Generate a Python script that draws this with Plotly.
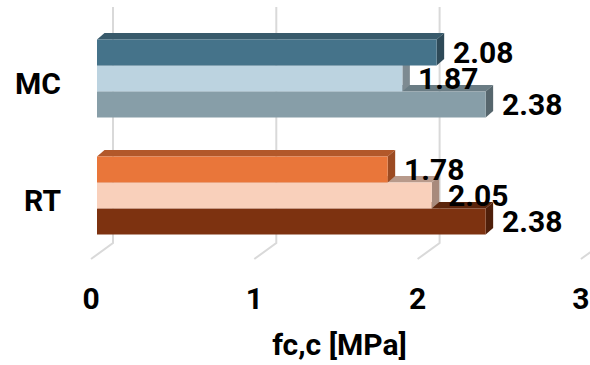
import plotly.graph_objects as go

# ---- data ----
categories = ["MC", "RT"]              # top to bottom
series_top = [2.08, 1.78]              # upper bar in each group
series_mid = [1.87, 2.05]              # middle bar
series_bot = [2.38, 2.38]              # lower bar
x_ticks = [0, 1, 2, 3]
x_title = "fc,c [MPa]"

# ---- styles ----
front_cols = {
    "top": ["#45738a", "#e9763a"],
    "mid": ["#bcd3e0", "#f9d0bb"],
    "bot": ["#879ea8", "#7d3210"],
}
topface_cols = {
    "top": ["#385a6b", "#b2582a"],
    "mid": ["#8c9aa2", "#b89a8b"],
    "bot": ["#6a7c84", "#5c250c"],
}
side_cols = {
    "top": ["#2e4a58", "#9c4b22"],
    "mid": ["#7d8a91", "#a88a7c"],
    "bot": ["#56666d", "#4f1f0a"],
}

PX_X = 163.3   # pixels per x unit
PX_Y = 117.0   # pixels per category
DX = 7.5 / PX_X
DY = 6.5 / PX_Y
BW = 0.222
offsets = {"top": 0.111, "mid": -0.111, "bot": -0.333}
values = {"top": series_top, "mid": series_mid, "bot": series_bot}

ypos = [len(categories) - 1 - i for i in range(len(categories))]

FONT = dict(family="Roboto", size=30, color="#000000", weight=700)

fig = go.Figure()
shapes = []

# back wall gridlines + floor diagonals
for t in x_ticks:
    xb = t + 16 / PX_X
    xf = t - 6 / PX_X
    y_top = 1 + (78.5 - 7) / PX_Y
    y_bot = (195.5 - 243) / PX_Y
    y_fl = (195.5 - 259) / PX_Y
    shapes.append(dict(type="path", xref="x", yref="y", layer="below",
                       path=f"M{xb},{y_top} L{xb},{y_bot} L{xf},{y_fl}",
                       line=dict(color="#d9d9d9", width=2)))

# 3D faces (drawn bottom bar first, upper bars overwrite)
for key in ["bot", "mid", "top"]:
    for i, v in enumerate(values[key]):
        y0 = ypos[i] + offsets[key]
        y1 = y0 + BW
        # top face
        shapes.append(dict(type="path", xref="x", yref="y", layer="below",
                           path=f"M0,{y1} L{v},{y1} L{v+DX},{y1+DY} L{DX},{y1+DY} Z",
                           fillcolor=topface_cols[key][i], line=dict(width=0)))
        # side face
        shapes.append(dict(type="path", xref="x", yref="y", layer="below",
                           path=f"M{v},{y0} L{v},{y1} L{v+DX},{y1+DY} L{v+DX},{y0+DY} Z",
                           fillcolor=side_cols[key][i], line=dict(width=0)))

annotations = []
for key in ["bot", "mid", "top"]:
    fig.add_trace(go.Bar(
        x=values[key], y=ypos, orientation="h",
        width=BW, offset=offsets[key],
        marker=dict(color=front_cols[key], line=dict(width=0)),
        hoverinfo="skip", showlegend=False,
    ))
    for i, v in enumerate(values[key]):
        annotations.append(dict(
            x=v, y=ypos[i] + offsets[key] + BW / 2, xref="x", yref="y",
            text=f"{v:.2f}", showarrow=False, xanchor="left", yanchor="middle",
            xshift=14, font=FONT))

fig.update_layout(
    width=590, height=365,
    margin=dict(l=89, r=0, t=5, b=103, autoexpand=False),
    paper_bgcolor="white", plot_bgcolor="white",
    barmode="overlay",
    shapes=shapes,
    annotations=annotations,
    font=FONT,
    xaxis=dict(range=[-8 / PX_X, 3.019], tickvals=x_ticks,
               ticktext=[str(t) for t in x_ticks], automargin=False,
               showgrid=False, zeroline=False, showline=False, ticks="",
               tickfont=FONT, ticklabelshift=-6, ticklabelstandoff=16,
               ticklabeloverflow="allow",
               title=dict(text=x_title, font=FONT, standoff=18)),
    yaxis=dict(range=[-0.568, 1.628], tickvals=ypos, ticktext=categories,
               automargin=False,
               showgrid=False, zeroline=False, showline=False, ticks="",
               tickfont=FONT, ticklabelstandoff=27, ticklabelshift=5),
)

fig.write_html("out.html", config={"displayModeBar": False},
               post_script="document.body.style.margin='0';document.body.style.overflow='hidden';")
